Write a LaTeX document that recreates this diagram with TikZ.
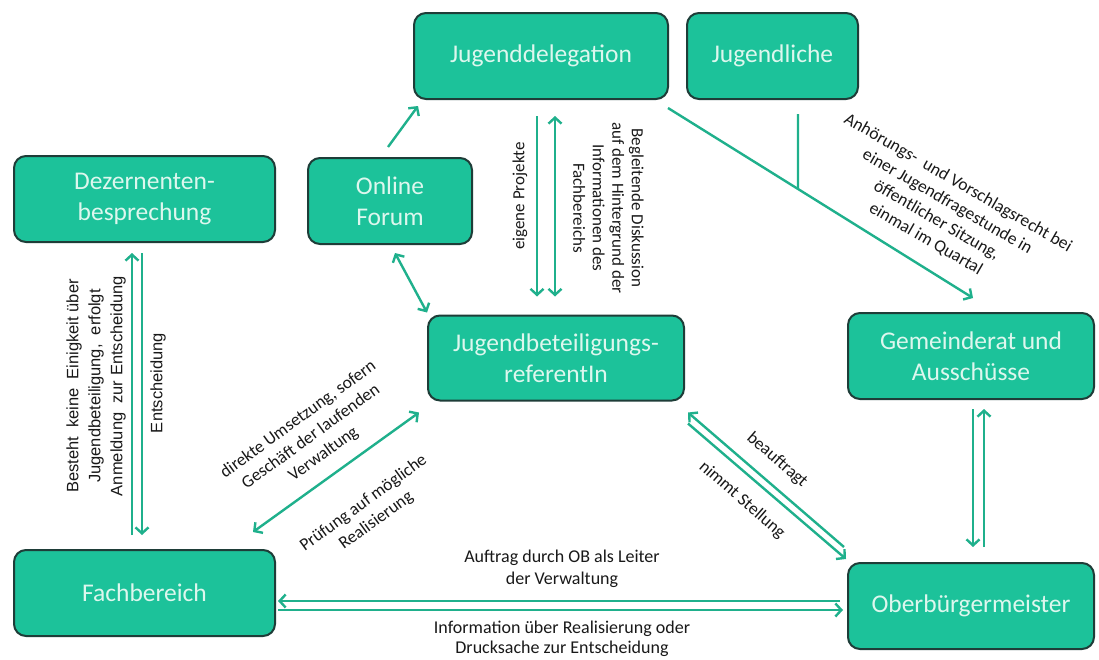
\documentclass[tikz,border=0pt]{standalone}
\usepackage{fontspec}
\setmainfont{Carlito}
\newfontfamily\arialf{Liberation Sans}
\usetikzlibrary{arrows.meta,calc}
\definecolor{boxfill}{HTML}{1CC29A}
\definecolor{boxline}{HTML}{1E3D38}
\definecolor{boxtext}{HTML}{DDF7EE}
\definecolor{arrcol}{HTML}{1FB08C}
\begin{document}
\begin{tikzpicture}[x=1pt,y=-1pt,
  box/.style={draw=boxline, line width=2pt, fill=boxfill, rounded corners=12pt, text=boxtext, align=center, font=\fontsize{25.5}{31}\selectfont, inner sep=0pt},
  conn/.style={draw=arrcol, line width=2.4pt},
  tipend/.style={-{Straight Barb[length=6pt,width=13pt]}},
  tipboth/.style={{Straight Barb[length=6pt,width=13pt]}-{Straight Barb[length=6pt,width=13pt]}},
  lab/.style={font=\fontsize{17}{21.5}\selectfont, align=center, inner sep=0pt, text=black!90},
  labA/.style={font=\arialf\fontsize{16.5}{22}\selectfont, align=center, inner sep=0pt, text=black!90}
]
\useasboundingbox (0,0) rectangle (1099,659);
\fill[white] (0,0) rectangle (1099,659);

% boxes
\node[box, minimum width=254pt, minimum height=86pt] (jd) at (541,56) {Jugenddelegation};
\node[box, minimum width=171pt, minimum height=86pt] (jl) at (772.5,56) {Jugendliche};
\node[box, minimum width=261pt, minimum height=86pt] (dz) at (144.5,199) {Dezernenten-\\besprechung};
\node[box, minimum width=164pt, minimum height=86pt] (of) at (390,201) {Online\\Forum};
\node[box, minimum width=256pt, minimum height=85pt] (jb) at (556,358) {Jugendbeteiligungs-\\referentIn};
\node[box, minimum width=246pt, minimum height=86pt] (gr) at (971,356) {Gemeinderat und\\Ausschüsse};
\node[box, minimum width=261pt, minimum height=86pt] (fb) at (144.5,593) {Fachbereich};
\node[box, minimum width=246pt, minimum height=86pt] (ob) at (971,606) {Oberbürgermeister};

% connectors
\draw[conn,tipend] ($(of.north)+(-2,-10)$) -- ($(jd.south west)+(5,6)$);
\draw[conn,tipboth] ($(of.south)+(5,8)$) -- ($(jb.north west)+(0,-2)$);

\draw[conn,tipend] ($(jd.south)+(-4,16)$) -- ($(jb.north)+(-19,-18)$);
\draw[conn,tipboth] ($(jd.south)+(14,16)$) -- ($(jb.north)+(-1,-18)$);

\coordinate (d1) at ($(jd.south east)+(-1,8)$);
\coordinate (d2) at ($(gr.north)+(2,-14)$);
\draw[conn,tipend] (d1) -- (d2);
\coordinate (j1) at ($(jl.south)+(25.5,14)$);
\coordinate (j2) at ($(j1)+(0,200)$);
\draw[conn] (j1) -- (intersection of d1--d2 and j1--j2);

\draw[conn,tipend] ($(fb.north)+(-12.5,-14)$) -- ($(dz.south)+(-12.5,10)$);
\draw[conn,tipend] ($(dz.south)+(-2.5,10)$) -- ($(fb.north)+(-2.5,-14)$);

\draw[conn,tipboth] ($(jb.south west)+(-8,11)$) -- ($(fb.north east)+(-23,-17)$);

\draw[conn,tipend] ($(ob.north west)+(-3,-15)$) -- ($(jb.south east)+(3,11)$);
\draw[conn,tipend] ($(jb.south east)+(3,22)$) -- ($(ob.north west)+(-1,-3)$);

\draw[conn,tipend] ($(gr.south)+(2,9)$) -- ($(ob.north)+(2,-15)$);
\draw[conn,tipend] ($(ob.north)+(13,-15)$) -- ($(gr.south)+(13,9)$);

\draw[conn,tipend] ($(ob.west)+(-7,-5)$) -- ($(fb.east)+(2,8)$);
\draw[conn,tipend] ($(fb.east)+(2,17)$) -- ($(ob.west)+(-4,4)$);

% labels
\node[lab, rotate=90] (le) at (520,196) {eigene Projekte};
\node[lab, rotate=-90, font=\fontsize{17}{19.5}\selectfont] (lb) at (608.5,208) {Begleitende Diskussion\\auf dem Hintergrund der\\Informationen des\\Fachbereichs};
\node[lab, rotate=-30, font=\fontsize{17.5}{21.5}\selectfont] (la) at (942,211) {Anhörungs-\ \ und Vorschlagsrecht bei\\einer Jugendfragestunde in\\öffentlicher Sitzung,\\einmal im Quartal};
\node[labA, rotate=90] (ll) at (96,386) {Besteht\ \ keine\ \ Einigkeit über\\Jugendbeteiligung,\ \ erfolgt\\Anmeldung\ \ zur Entscheidung};
\node[labA, rotate=90] (lent) at (158,383) {Entscheidung};
\node[lab, rotate=36, font=\fontsize{17.5}{21.5}\selectfont] (ld) at (311,437) {direkte Umsetzung,\ sofern\\Geschäft der laufenden\\Verwaltung};
\node[lab, rotate=36, font=\fontsize{17.5}{21.5}\selectfont] (lp) at (370,512) {Prüfung auf mögliche\\Realisierung};
\node[lab, rotate=-41, font=\fontsize{17.5}{21.5}\selectfont] (lbe) at (777,460) {beauftragt};
\node[lab, rotate=-41, font=\fontsize{17.5}{21.5}\selectfont] (lns) at (742,500) {nimmt Stellung};
\node[lab, font=\fontsize{18}{21.5}\selectfont] (lau) at (562,569) {Auftrag durch OB als Leiter\\der Verwaltung};
\node[lab, font=\fontsize{18}{20}\selectfont] (lin) at (562,639) {Information über Realisierung oder\\Drucksache zur Entscheidung};
\end{tikzpicture}
\end{document}
